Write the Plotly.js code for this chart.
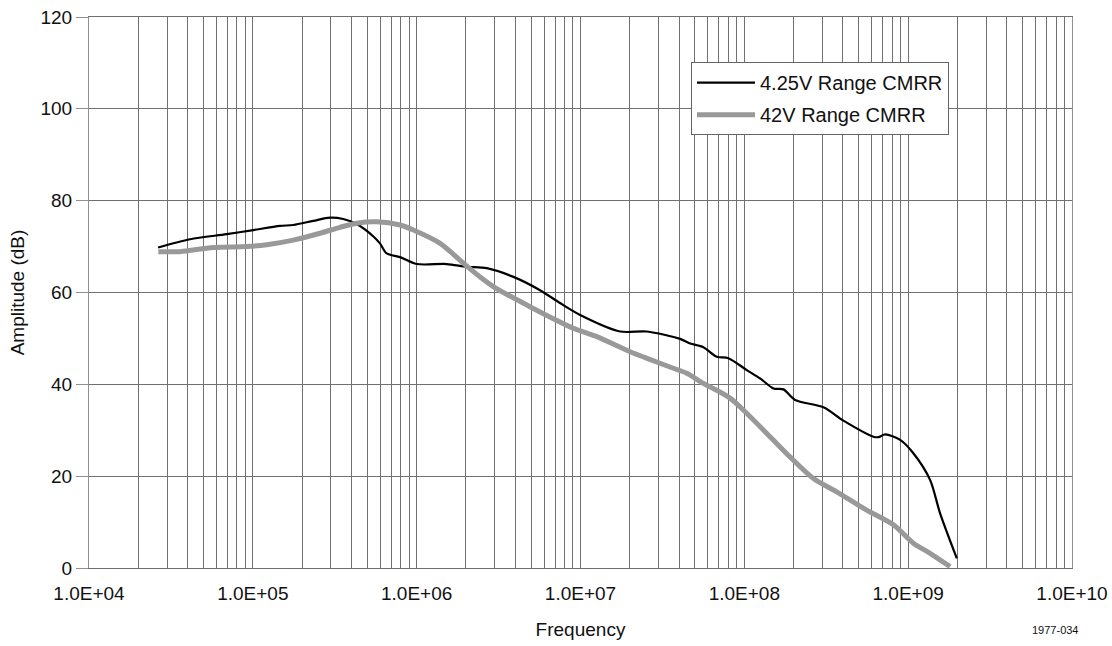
<!DOCTYPE html>
<html>
<head>
<meta charset="utf-8">
<script src="https://cdn.plot.ly/plotly-3.0.1.min.js"></script>
<style>
  html, body { margin: 0; padding: 0; background: #fff; }
  #chart { width: 1112px; height: 646px; }
</style>
</head>
<body>
<div id="chart"></div>
<script>
// Frequency (Hz) and amplitude (dB)
const freqLow = [26400, 41400, 69300, 100700, 146600, 176600, 233900, 295800, 356500, 430500,
  544500, 597000, 656100, 792500, 1000000, 1524000, 2023000, 2679000, 3899000, 5662000,
  7499000, 9954000, 1.746e7, 2.541e7, 4.055e7, 4.667e7, 5.623e7, 6.792e7, 8.0e7, 1.035e8,
  1.247e8, 1.507e8, 1.734e8, 2.042e8, 3.041e8, 4.027e8, 6.138e8, 6.592e8, 7.244e8, 8.933e8,
  1.076e9, 1.361e9, 1.567e9, 1.982e9];
const cmrrLow = [69.8, 71.6, 72.7, 73.6, 74.5, 74.7, 75.6, 76.3, 76.0, 74.9,
  72.2, 70.7, 68.5, 67.7, 66.2, 66.2, 65.6, 65.3, 63.4, 60.5,
  57.7, 55.1, 51.5, 51.5, 49.9, 48.9, 48.1, 46.0, 45.7, 43.1,
  41.3, 39.1, 38.9, 36.6, 35.0, 32.1, 28.6, 28.5, 29.1, 27.9,
  25.0, 19.2, 11.9, 2.1];

const freqHigh = [26500, 36000, 57400, 91800, 121600, 176600, 257000, 340400, 430500, 570200,
  792500, 955000, 1390000, 1928000, 2438000, 2938000, 4920000, 9057000, 1.256e7, 2.009e7,
  3.690e7, 4.457e7, 5.623e7, 6.471e7, 8.185e7, 9.863e7, 1.435e8, 1.901e8, 2.642e8, 3.664e8,
  5.585e8, 8.128e8, 1.076e9, 1.361e9, 1.803e9];
const cmrrHigh = [68.9, 68.9, 69.8, 70.0, 70.4, 71.4, 72.9, 74.2, 75.1, 75.4,
  74.7, 73.6, 70.7, 66.4, 63.4, 61.3, 56.9, 52.2, 50.4, 47.1,
  43.5, 42.4, 40.2, 39.1, 37.0, 34.4, 28.6, 24.2, 19.5, 16.6,
  12.6, 9.4, 5.4, 3.2, 0.3];

const seriesNames = ["4.25V Range CMRR", "42V Range CMRR"];
const decadeLabels = ["1.0E+04", "1.0E+05", "1.0E+06", "1.0E+07", "1.0E+08", "1.0E+09", "1.0E+10"];
const yTicks = [0, 20, 40, 60, 80, 100, 120];

// gridline positions: every 1..9 multiple per decade, labels only on decades
const xTickVals = [];
const xTickText = [];
for (let d = 0; d < decadeLabels.length; d++) {
  const base = Math.pow(10, 4 + d);
  const maxM = (d === decadeLabels.length - 1) ? 1 : 9;
  for (let m = 1; m <= maxM; m++) {
    xTickVals.push(base * m);
    xTickText.push(m === 1 ? decadeLabels[d] : "");
  }
}

const font = "'Liberation Sans', Arial, sans-serif";

const traces = [
  {
    x: freqLow, y: cmrrLow, name: seriesNames[0], legendgroup: "a", type: "scatter", mode: "lines",
    line: { color: "#000000", width: 2.2, shape: "spline", smoothing: 0.8 }
  },
  {
    x: freqHigh, y: cmrrHigh, name: seriesNames[1], legendgroup: "b", type: "scatter", mode: "lines",
    line: { color: "#999999", width: 5, shape: "spline", smoothing: 0.8 }
  }
];

const layout = {
  width: 1112, height: 646,
  margin: { l: 89, r: 40, t: 17, b: 78 },
  paper_bgcolor: "#ffffff", plot_bgcolor: "#ffffff",
  showlegend: true,
  legend: {
    x: 0.6124, y: 0.918, xanchor: "left", yanchor: "top",
    bgcolor: "#ffffff", bordercolor: "#666666", borderwidth: 1,
    font: { family: font, size: 20, color: "#111111" },
    itemwidth: 58, traceorder: "grouped", tracegroupgap: 3
  },
  xaxis: {
    type: "log", range: [4, 10.0002],
    tickmode: "array", tickvals: xTickVals, ticktext: xTickText,
    showgrid: true, gridcolor: "#707070", gridwidth: 1,
    showline: true, linecolor: "#707070", linewidth: 1, mirror: true,
    ticks: "", zeroline: false, ticklabelstandoff: 8,
    tickfont: { family: font, size: 19, color: "#111111" },
    title: { text: "Frequency", font: { family: font, size: 19, color: "#111111" }, standoff: 19 }
  },
  yaxis: {
    range: [0, 120], tickmode: "array", tickvals: yTicks,
    showgrid: true, gridcolor: "#707070", gridwidth: 1,
    showline: true, linecolor: "#909090", linewidth: 1, mirror: true,
    ticks: "outside", ticklen: 12, tickcolor: "#909090",
    zeroline: false,
    tickfont: { family: font, size: 19, color: "#111111" },
    title: { text: "Amplitude (dB)", font: { family: font, size: 19, color: "#111111" }, standoff: 10 }
  },
  annotations: [
    {
      text: "1977-034", xref: "paper", yref: "paper",
      x: (1055 - 89) / 983, y: -(630 - 568) / 551,
      xanchor: "center", yanchor: "middle", showarrow: false,
      font: { family: font, size: 11, color: "#111111" }
    }
  ]
};

Plotly.newPlot("chart", traces, layout, { displayModeBar: false, staticPlot: true });
</script>
</body>
</html>
